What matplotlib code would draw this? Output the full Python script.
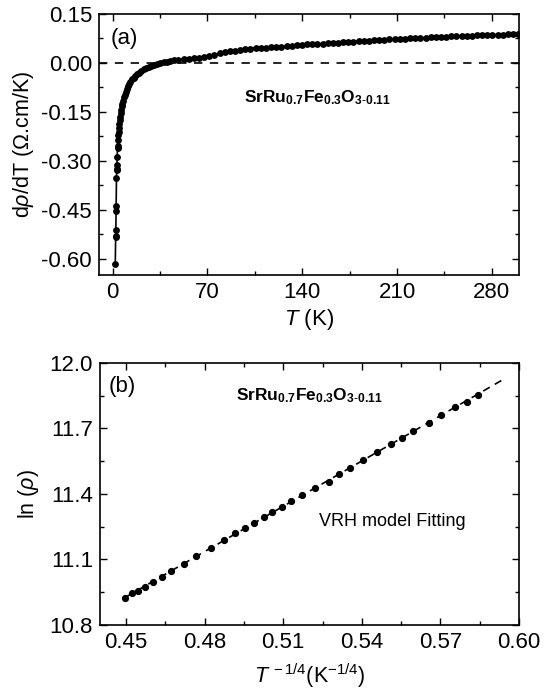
import numpy as np
import matplotlib
matplotlib.use("Agg")
import matplotlib.pyplot as plt
from matplotlib.ticker import MultipleLocator, FormatStrFormatter

plt.rcParams['font.family'] = ['Liberation Sans', 'DejaVu Sans']
plt.rcParams['mathtext.fontset'] = 'custom'
plt.rcParams['mathtext.rm'] = 'Liberation Sans'
plt.rcParams['mathtext.it'] = 'Liberation Sans:italic'
plt.rcParams['mathtext.bf'] = 'Liberation Sans:bold'
plt.rcParams['axes.unicode_minus'] = False

# ---- panel (a): derivative of resistivity vs temperature ----
temp_K = [2.0, 2.3, 2.35, 2.45, 2.6, 2.65, 2.9, 3.05, 3.1, 3.2, 3.4, 3.7, 3.8,
          4.0, 4.2, 4.5, 4.8, 5.1, 5.4, 5.7, 6.0, 6.4, 6.8, 7.3, 7.8, 8.4, 9.0,
          9.7, 10.5, 11.3, 12.2, 13.2, 14.3, 15.5, 16.8, 18.2, 19.7, 21.3, 23.0,
          24.8, 26.7, 28.7, 30.8, 33.0, 35.3, 37.7, 40.1, 42.6, 45.2, 48.6,
          52.4, 56.2, 60.0, 63.8, 67.6, 71.4, 75.2, 79.0, 82.8, 86.6, 90.4,
          94.2, 98.0, 101.8, 105.6, 109.4, 113.2, 117.0, 120.8, 124.6, 128.4,
          132.2, 136.0, 139.8, 143.6, 147.4, 151.2, 155.0, 158.8, 162.6, 166.4,
          170.2, 174.0, 177.8, 181.6, 185.4, 189.2, 193.0, 196.8, 200.6, 204.4,
          208.2, 212.0, 215.8, 219.6, 223.4, 227.2, 231.0, 234.8, 238.6, 242.4,
          246.2, 250.0, 253.8, 257.6, 261.4, 265.2, 269.0, 272.8, 276.6, 280.4,
          284.2, 288.0, 291.8, 295.6, 299.0]
drho_dT = [-0.616, -0.535, -0.530, -0.512, -0.454, -0.438, -0.352, -0.329,
           -0.324, -0.314, -0.288, -0.260, -0.255, -0.235, -0.220, -0.212,
           -0.200, -0.188, -0.175, -0.165, -0.155, -0.145, -0.132, -0.125,
           -0.117, -0.105, -0.097, -0.088, -0.080, -0.072, -0.065, -0.057,
           -0.050, -0.045, -0.040, -0.035, -0.030, -0.025, -0.020, -0.016,
           -0.012, -0.008, -0.005, -0.003, 0.000, 0.002, 0.004, 0.006, 0.008,
           0.010, 0.012, 0.013, 0.015, 0.016, 0.018, 0.021, 0.025, 0.029,
           0.032, 0.035, 0.038, 0.040, 0.042, 0.044, 0.045, 0.046, 0.047,
           0.048, 0.049, 0.050, 0.051, 0.053, 0.054, 0.056, 0.057, 0.058,
           0.059, 0.059, 0.060, 0.061, 0.062, 0.063, 0.064, 0.065, 0.066,
           0.067, 0.068, 0.069, 0.070, 0.071, 0.072, 0.072, 0.073, 0.074,
           0.075, 0.076, 0.077, 0.077, 0.078, 0.079, 0.080, 0.080, 0.081,
           0.082, 0.083, 0.083, 0.084, 0.085, 0.085, 0.086, 0.086, 0.087,
           0.087, 0.088, 0.088, 0.088]

# ---- panel (b): VRH plot ----
t_quarter = [0.4496, 0.4523, 0.4545, 0.4570, 0.4604, 0.4635, 0.4673, 0.4719,
             0.4768, 0.4822, 0.4874, 0.4915, 0.4953, 0.4990, 0.5027, 0.5058,
             0.5094, 0.5128, 0.5171, 0.5220, 0.5273, 0.5313, 0.5354, 0.5405,
             0.5459, 0.5513, 0.5554, 0.5594, 0.5655, 0.5702, 0.5757, 0.5801,
             0.5842]
ln_rho = [10.925, 10.945, 10.957, 10.975, 10.998, 11.021, 11.047, 11.077,
          11.116, 11.151, 11.189, 11.219, 11.245, 11.268, 11.296, 11.318,
          11.341, 11.369, 11.395, 11.425, 11.456, 11.489, 11.520, 11.555,
          11.593, 11.628, 11.657, 11.689, 11.722, 11.761, 11.799, 11.822,
          11.852]
fit_range = (0.4496, 0.5939)

compound = (r'$\mathbf{SrRu}_{\mathbf{0.7}}\mathbf{Fe}_{\mathbf{0.3}}'
            r'\mathbf{O}_{\mathbf{3}\text{-}\mathbf{0.11}}$')

fig = plt.figure(figsize=(5.54, 6.95), dpi=100)
ax1 = fig.add_axes([0.1787, 0.6043, 0.7581, 0.3756])
ax2 = fig.add_axes([0.1805, 0.1007, 0.7563, 0.3774])


def style_axes(ax):
    for sp in ax.spines.values():
        sp.set_linewidth(1.2)
    ax.tick_params(which='both', direction='in', top=True, right=True,
                   labelsize=16, width=1.0, pad=5)
    ax.tick_params(which='major', length=5)
    ax.tick_params(which='minor', length=3)


# panel (a)
ax1.axhline(0.0, color='black', lw=1.2, ls=(0, (5, 4.5)), zorder=1)
ax1.plot(temp_K, drho_dT, color='black', lw=1.2, marker='o', ms=3.9,
         zorder=2)
ax1.set_xlim(-10, 300)
ax1.set_ylim(-0.65, 0.15)
ax1.xaxis.set_major_locator(MultipleLocator(70))
ax1.xaxis.set_minor_locator(MultipleLocator(35))
ax1.yaxis.set_major_locator(MultipleLocator(0.15))
ax1.yaxis.set_minor_locator(MultipleLocator(0.075))
ax1.yaxis.set_major_formatter(FormatStrFormatter('%.2f'))
style_axes(ax1)
ax1.set_xlabel(r'$T$ (K)', fontsize=16, labelpad=3)
ax1.set_ylabel(r'd$\rho$/dT ($\Omega$.cm/K)', fontsize=15.5, labelpad=4)
ax1.text(0.027, 0.945, '(a)', transform=ax1.transAxes, fontsize=16,
         va='top', ha='left')
ax1.text(0.52, 0.68, compound, transform=ax1.transAxes, fontsize=12.5,
         ha='center', va='center')

# panel (b)
coef = np.polyfit(t_quarter, ln_rho, 1)
xfit = np.array(fit_range)
ax2.plot(xfit, np.polyval(coef, xfit), color='black', lw=1.2,
         ls=(0, (4.5, 3.5)), zorder=1)
ax2.plot(t_quarter, ln_rho, ls='none', marker='o', color='black', ms=4.2,
         zorder=2)
ax2.set_xlim(0.44, 0.60)
ax2.set_ylim(10.8, 12.0)
ax2.xaxis.set_major_locator(MultipleLocator(0.03))
ax2.xaxis.set_minor_locator(MultipleLocator(0.015))
ax2.yaxis.set_major_locator(MultipleLocator(0.3))
ax2.yaxis.set_minor_locator(MultipleLocator(0.15))
ax2.xaxis.set_major_formatter(FormatStrFormatter('%.2f'))
ax2.yaxis.set_major_formatter(FormatStrFormatter('%.1f'))
style_axes(ax2)
ax2.set_xlabel(r'$T^{\,-1/4}$(K$^{-1/4}$)', fontsize=15.5, labelpad=6)
ax2.set_ylabel(r'ln ($\rho$)', fontsize=15.5, labelpad=6)
ax2.text(0.02, 0.95, '(b)', transform=ax2.transAxes, fontsize=16,
         va='top', ha='left')
ax2.text(0.50, 0.875, compound, transform=ax2.transAxes, fontsize=12.5,
         ha='center', va='center')
ax2.text(0.522, 0.395, 'VRH model Fitting', transform=ax2.transAxes,
         fontsize=13, ha='left', va='center')

fig.savefig('out.png', dpi=100)
